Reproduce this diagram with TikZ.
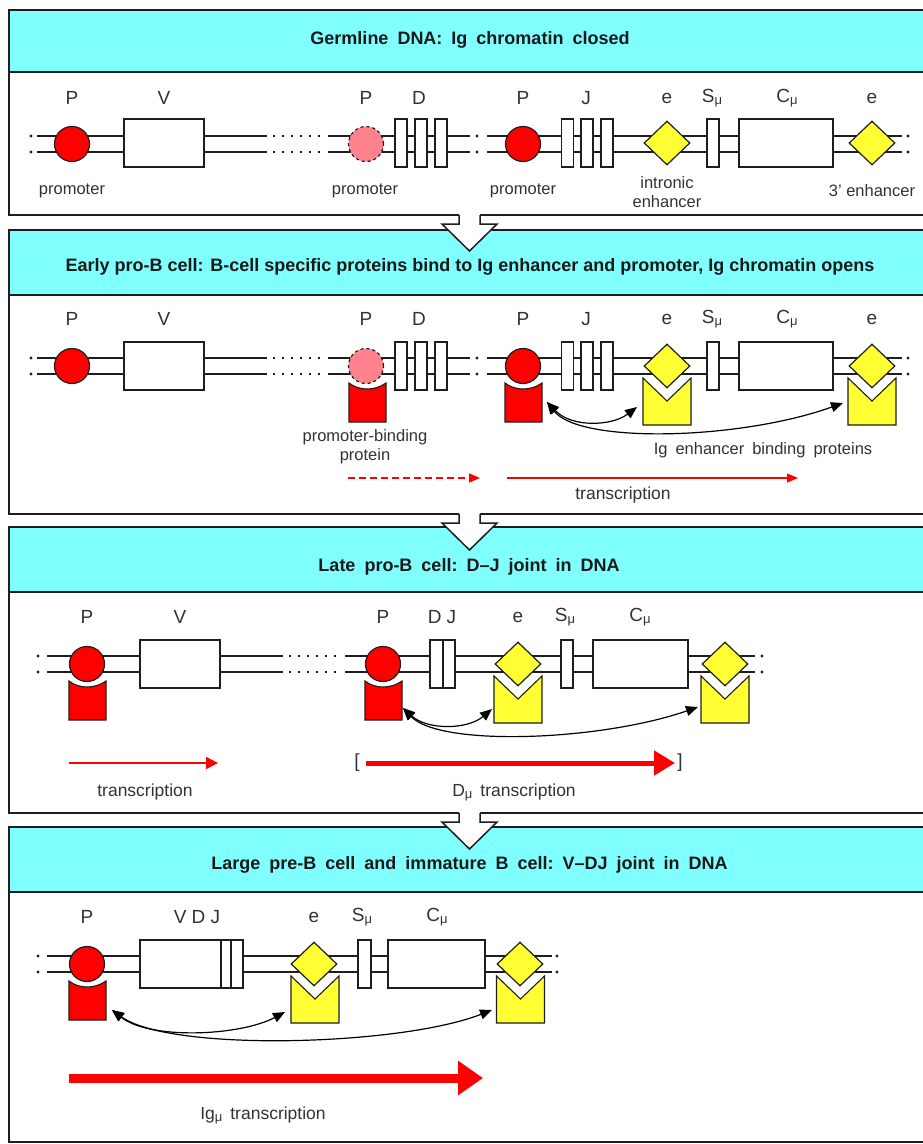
\documentclass[tikz,border=0pt]{standalone}
\usepackage{fontspec}
\setmainfont{Liberation Sans}
\usetikzlibrary{arrows.meta,shapes.geometric}
\definecolor{hcyan}{RGB}{128,255,255}
\definecolor{lblgray}{RGB}{50,50,50}
\definecolor{pinkp}{RGB}{255,130,140}
\definecolor{yel}{RGB}{255,255,51}
\definecolor{edge}{RGB}{30,30,30}
\newcommand\mmu{\raisebox{-2pt}{\fontsize{13}{13}\selectfont μ}}
\newcommand\ws{\hspace*{9pt}}
\newcommand\tws{\hspace*{8pt}}
\newcommand\dnapair[3]{\draw[dnaline] (#1,#3-8) -- (#2,#3-8) (#1,#3+8) -- (#2,#3+8);}
\newcommand\dotpair[3]{\draw[dotline] (#1,#3-8) -- (#2,#3-8) (#1,#3+8) -- (#2,#3+8);}
\newcommand\dnadots[2]{\fill[edge] (#1,#2-8) circle[radius=1.6pt] (#1,#2+8) circle[radius=1.6pt];}
\newcommand\blockarr[1]{%
  \fill[white] (459,#1-2) -- (459,#1+9) -- (442,#1+9) -- (469.5,#1+36) -- (497,#1+9) -- (480,#1+9) -- (480,#1-2) -- cycle;
  \draw[edge,line width=1.5pt,line join=miter] (459,#1) -- (459,#1+9) -- (442,#1+9) -- (469.5,#1+36) -- (497,#1+9) -- (480,#1+9) -- (480,#1);}
\begin{document}
\begin{tikzpicture}[x=1pt,y=-1pt,
  frame/.style={draw=edge,line width=1.5pt},
  hdr/.style={fill=hcyan,draw=edge,line width=1.5pt},
  hdrtxt/.style={font=\fontsize{18}{22}\selectfont\bfseries,text=black!90,inner sep=0},
  lbl/.style={text=lblgray,font=\fontsize{19}{22}\selectfont,inner sep=0},
  slbl/.style={text=lblgray,font=\fontsize{16.5}{19}\selectfont,inner sep=0,align=center},
  tlbl/.style={text=lblgray,font=\fontsize{17.5}{20}\selectfont,inner sep=0},
  seg/.style={draw=edge,fill=white,line width=1.3pt,inner sep=0,minimum height=48pt},
  prom/.style={circle,draw=edge,fill=red,line width=1.2pt,minimum size=35pt,inner sep=0},
  pprom/.style={circle,draw=edge,fill=pinkp,line width=1.2pt,dashed,minimum size=35pt,inner sep=0},
  enh/.style={diamond,draw=edge,fill=yel,line width=1.2pt,minimum width=46pt,minimum height=44pt,inner sep=0},
  dnaline/.style={draw=edge,line width=1.3pt},
  dotline/.style={draw=edge,line width=1.3pt,dash pattern=on 2pt off 7pt},
  bk/.style={draw=black,line width=1.2pt,{Triangle[length=12pt,width=10pt]}-{Triangle[length=12pt,width=10pt]}},
  redp/.style={draw=red,line width=1.5pt,-{Triangle[length=11pt,width=9pt]}},
  redprot/.pic={\path[fill=red,draw=edge,line width=1.1pt] (-18,17) .. controls (-8,25) and (8,25) .. (19,17) -- (19,56) -- (-18,56) -- cycle;},
  yelprot/.pic={\path[fill=yel,draw=edge,line width=1.1pt] (-24,12) -- (0,35) -- (24,12) -- (24,59) -- (-24,59) -- cycle;}
]
\useasboundingbox (0,0) rectangle (922,1144);
\fill[white] (0,0) rectangle (922,1144);

% ---------------- Panel 1 ----------------
\draw[hdr] (9,10) rectangle (925,72);
\draw[frame] (9,10) rectangle (925,215);
\node[hdrtxt] (h1) at (470,40) {Germline\ws DNA:\ws Ig\ws chromatin\ws closed};
\dnadots{31}{144}
\dnapair{37}{267}{144}
\dotpair{273}{324}{144}
\dnapair{328}{470}{144}
\dnadots{477}{144}
\dnapair{487}{902}{144}
\dnadots{908}{144}
\node[prom] (p1a) at (72,144) {};
\node[seg,minimum width=80pt] (v1) at (164,143) {};
\node[pprom] (p1b) at (366,144) {};
\node[seg,minimum width=12pt] (d1a) at (401,143) {};
\node[seg,minimum width=12pt] (d1b) at (421,143) {};
\node[seg,minimum width=12pt] (d1c) at (441,143) {};
\node[prom] (p1c) at (523,144) {};
\node[seg,minimum width=12pt] (j1a) at (567.5,143) {};
\node[seg,minimum width=12pt] (j1b) at (587,143) {};
\node[seg,minimum width=12pt] (j1c) at (607,143) {};
\node[enh] (e1a) at (667,143) {};
\node[seg,minimum width=12pt] (s1) at (713,143) {};
\node[seg,minimum width=94pt] (c1) at (786,143) {};
\node[enh] (e1b) at (872,143) {};
\node[lbl] (lp1a) at (72,98) {P};
\node[lbl] (lv1) at (164,98) {V};
\node[lbl] (lp1b) at (366,98) {P};
\node[lbl] (ld1) at (419,98) {D};
\node[lbl] (lp1c) at (523,98) {P};
\node[lbl] (lj1) at (586,98) {J};
\node[lbl] (le1a) at (667,98) {e};
\node[lbl] (ls1) at (712,98) {S\mmu};
\node[lbl] (lc1) at (787,98) {C\mmu};
\node[lbl] (le1b) at (872,98) {e};
\node[slbl] (pr1a) at (72,191) {promoter};
\node[slbl] (pr1b) at (365,191) {promoter};
\node[slbl] (pr1c) at (523,191) {promoter};
\node[slbl] (ie1) at (667,192) {intronic\\enhancer};
\node[slbl] (te1) at (872,191) {3\textquoteright\ enhancer};

% ---------------- Panel 2 ----------------
\draw[hdr] (9,230) rectangle (925,295);
\draw[frame] (9,230) rectangle (925,514);
\node[hdrtxt] (h2) at (470,267) {Early pro-B cell: B-cell specific proteins bind to Ig enhancer and promoter, Ig chromatin opens};
\dnadots{31}{366}
\dnapair{37}{267}{366}
\dotpair{273}{324}{366}
\dnapair{328}{470}{366}
\dnadots{477}{366}
\dnapair{487}{902}{366}
\dnadots{908}{366}
\pic at (367,366) {redprot};
\pic at (523,366) {redprot};
\pic at (667,366) {yelprot};
\pic at (872,366) {yelprot};
\node[prom] (p2a) at (72,366) {};
\node[seg,minimum width=80pt] (v2) at (164,366) {};
\node[pprom] (p2b) at (366,366) {};
\node[seg,minimum width=12pt] (d2a) at (401,366) {};
\node[seg,minimum width=12pt] (d2b) at (421,366) {};
\node[seg,minimum width=12pt] (d2c) at (441,366) {};
\node[prom] (p2c) at (523,366) {};
\node[seg,minimum width=12pt] (j2a) at (567.5,366) {};
\node[seg,minimum width=12pt] (j2b) at (587,366) {};
\node[seg,minimum width=12pt] (j2c) at (607,366) {};
\node[enh] (e2a) at (667,366) {};
\node[seg,minimum width=12pt] (s2) at (713,366) {};
\node[seg,minimum width=94pt] (c2) at (786,366) {};
\node[enh] (e2b) at (872,366) {};
\node[lbl] (lp2a) at (72,319) {P};
\node[lbl] (lv2) at (164,319) {V};
\node[lbl] (lp2b) at (366,319) {P};
\node[lbl] (ld2) at (419,319) {D};
\node[lbl] (lp2c) at (523,319) {P};
\node[lbl] (lj2) at (586,319) {J};
\node[lbl] (le2a) at (667,319) {e};
\node[lbl] (ls2) at (712,319) {S\mmu};
\node[lbl] (lc2) at (787,319) {C\mmu};
\node[lbl] (le2b) at (872,319) {e};
\node[slbl] (pbp) at (365,447) {promoter-binding\\protein};
\node[slbl] (iebp) at (763,450) {Ig\tws enhancer\tws binding\tws proteins};
\coordinate (a2) at (547,402);
\coordinate (b2) at (637,407);
\coordinate (c2e) at (843,403);
\draw[bk] (a2) .. controls (572,428) and (612,426) .. (b2);
\draw[bk] (a2) .. controls (580,444) and (740,440) .. (c2e);
\coordinate (t2a) at (348,478);
\coordinate (t2b) at (480,478);
\coordinate (t2c) at (507,478);
\coordinate (t2d) at (798,478);
\draw[redp,dash pattern=on 7pt off 4pt] (t2a) -- (t2b);
\draw[redp] (t2c) -- (t2d);
\node[tlbl] (tr2) at (623,495) {transcription};

% ---------------- Panel 3 ----------------
\draw[hdr] (9,527) rectangle (925,592);
\draw[frame] (9,527) rectangle (925,813);
\node[hdrtxt] (h3) at (469,567) {Late\ws pro-B\ws cell:\ws D–J\ws joint\ws in\ws DNA};
\dnadots{38}{664}
\dnapair{47}{283}{664}
\dotpair{289}{340}{664}
\dnapair{345}{755}{664}
\dnadots{762}{664}
\pic at (87,664) {redprot};
\pic at (383,664) {redprot};
\pic at (518,664) {yelprot};
\pic at (725,664) {yelprot};
\node[prom] (p3a) at (87,664) {};
\node[seg,minimum width=80pt] (v3) at (180,664) {};
\node[prom] (p3b) at (383,664) {};
\node[seg,minimum width=13pt] (d3) at (436.5,664) {};
\node[seg,minimum width=12pt] (j3) at (449,664) {};
\node[enh] (e3a) at (518,664) {};
\node[seg,minimum width=12pt] (s3) at (567,664) {};
\node[seg,minimum width=95pt] (c3) at (640.5,664) {};
\node[enh] (e3b) at (725,664) {};
\node[lbl] (lp3a) at (87,617) {P};
\node[lbl] (lv3) at (180,617) {V};
\node[lbl] (lp3b) at (383,617) {P};
\node[lbl] (ldj3) at (442,617) {D J};
\node[lbl] (le3a) at (518,617) {e};
\node[lbl] (ls3) at (565,617) {S\mmu};
\node[lbl] (lc3) at (640,617) {C\mmu};
\coordinate (a3) at (403,708);
\coordinate (b3) at (492,709);
\coordinate (c3e) at (698,707);
\draw[bk] (a3) .. controls (427,730) and (467,730) .. (b3);
\draw[bk] (a3) .. controls (440,747) and (600,741) .. (c3e);
\coordinate (t3a) at (69,763);
\coordinate (t3b) at (218,763);
\draw[draw=red,line width=1.5pt,-{Triangle[length=12pt,width=12pt]}] (t3a) -- (t3b);
\node[tlbl] (tr3a) at (145,792) {transcription};
\node[lbl] (lbr3) at (357,763) {[};
\node[lbl] (rbr3) at (680,763) {]};
\coordinate (t3c) at (366,763);
\coordinate (t3d) at (675,763);
\draw[draw=red,line width=5pt,-{Triangle[length=21pt,width=24pt]}] (t3c) -- (t3d);
\node[tlbl] (tr3b) at (514,792) {D\mmu\tws transcription};

% ---------------- Panel 4 ----------------
\draw[hdr] (9,827) rectangle (925,892);
\draw[frame] (9,827) rectangle (925,1142);
\node[hdrtxt] (h4) at (469.5,865) {Large\ws pre-B\ws cell\ws and\ws immature\ws B\ws cell:\ws V–DJ\ws joint\ws in\ws DNA};
\dnadots{38}{964}
\dnapair{47}{552}{964}
\dnadots{557}{964}
\pic at (87,964) {redprot};
\pic at (315,964) {yelprot};
\pic at (520.5,964) {yelprot};
\node[prom] (p4) at (87,964) {};
\node[seg,minimum width=81pt] (v4) at (180.5,964) {};
\node[seg,minimum width=10pt] (d4) at (226,964) {};
\node[seg,minimum width=12pt] (j4) at (237,964) {};
\node[enh] (e4a) at (314,964) {};
\node[seg,minimum width=13pt] (s4) at (364.5,964) {};
\node[seg,minimum width=97pt] (c4) at (436.5,964) {};
\node[enh] (e4b) at (520,964) {};
\node[lbl] (lp4) at (87,917) {P};
\node[lbl] (lvdj4) at (197,917) {V D J};
\node[lbl] (le4a) at (314,917) {e};
\node[lbl] (ls4) at (362,917) {S\mmu};
\node[lbl] (lc4) at (437,917) {C\mmu};
\coordinate (a4) at (112,1010);
\coordinate (b4) at (285,1012);
\coordinate (c4e) at (492,1010);
\draw[bk] (a4) .. controls (150,1040) and (240,1036) .. (b4);
\draw[bk] (a4) .. controls (170,1052) and (400,1046) .. (c4e);
\coordinate (t4a) at (69,1078);
\coordinate (t4b) at (483,1078);
\draw[draw=red,line width=9pt,-{Triangle[length=25pt,width=33pt]}] (t4a) -- (t4b);
\node[tlbl] (tr4) at (263,1115) {Ig\mmu\tws transcription};

% ---------------- block arrows ----------------
\blockarr{215}
\blockarr{514}
\blockarr{813}
\end{tikzpicture}
\end{document}
